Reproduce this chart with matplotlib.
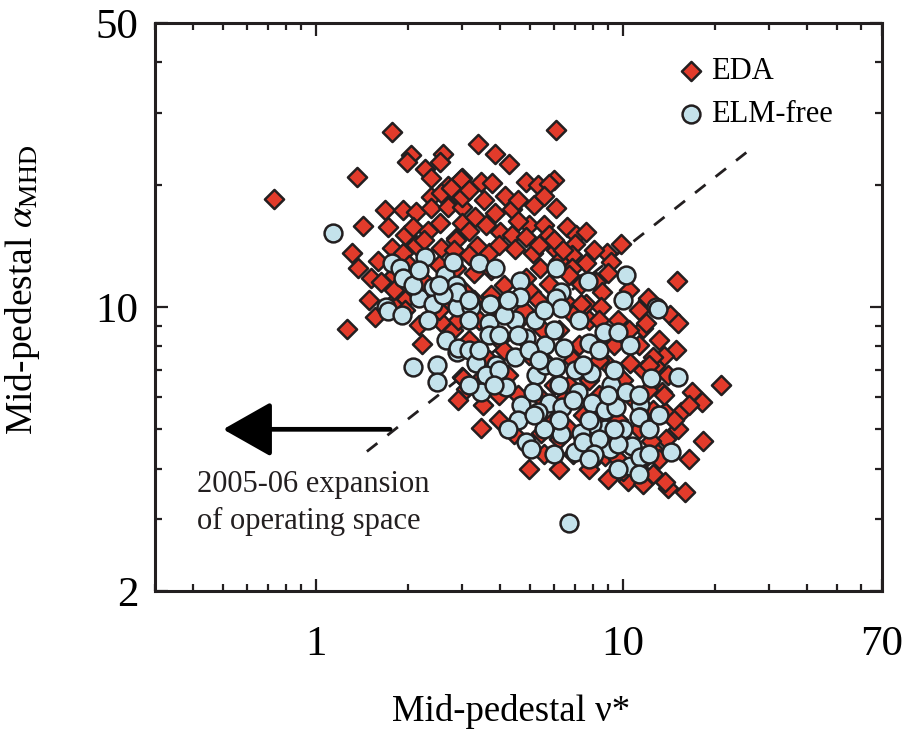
import matplotlib
matplotlib.use("Agg")
import matplotlib.pyplot as plt
from matplotlib.ticker import LogLocator, NullFormatter, FixedLocator, FixedFormatter

plt.rcParams['font.family'] = ['Liberation Serif', 'DejaVu Serif']
plt.rcParams['mathtext.fontset'] = 'stix'

# ---------------- data ----------------
eda_nu = [1.77, 1.36, 0.73, 2.05, 1.99, 2.61, 2.55, 2.28, 2.37, 2.99, 2.71, 2.92, 2.38, 2.57,
          1.69, 1.93, 2.13, 2.38, 2.71, 2.99, 1.43, 1.72, 1.96, 2.08, 2.33, 2.55, 2.99,
          1.31, 1.38, 1.52, 1.64, 1.78, 1.93, 2.12, 2.57, 2.86, 1.96, 1.77,
          6.09, 3.37, 3.85, 4.28, 2.97, 2.77, 3.47, 3.77, 4.83, 5.32, 6.0, 5.74, 4.13, 2.99,
          4.38, 6.09, 3.30, 3.85, 3.58, 4.0, 4.35, 4.94, 4.86, 5.53, 5.74, 6.57, 7.06, 7.58,
          7.0, 2.86, 3.35, 3.66, 4.48, 5.12, 6.05, 6.82, 7.58, 8.87, 9.9, 9.2, 9.0, 8.2, 12.1,
          2.86, 3.27, 3.74, 4.1, 4.83, 5.40, 5.74, 6.82, 7.30, 8.55, 6.52, 7.58, 5.05, 3.03, 3.74,
          15.0, 12.1, 14.3, 15.2, 11.7, 14.9, 13.6, 12.8, 11.7, 21.0, 16.8, 18.1, 15.5, 13.8,
          13.9, 18.3, 12.6, 11.5, 14.1, 16.0,
          1.27, 1.56, 2.23, 1.82, 1.96, 2.57, 2.99,
          3.03, 3.10, 3.45, 5.44, 10.4, 13.8, 11.9, 10.6, 12.6, 7.35, 8.5, 13.4, 12.4, 7.94,
          8.80, 10.0,
          4.6, 5.5, 3.95, 6.2, 7.76, 8.4, 9.0, 6.67, 5.32, 4.58, 5.96, 8.35, 10.0, 9.7, 11.3,
          12.6, 7.45, 12.1, 9.0, 6.9, 11.3, 9.7, 6.2, 3.66, 4.25, 3.40, 3.15, 4.94, 3.95, 3.52,
          2.81, 3.27, 4.76, 5.32, 3.95,
          6.67, 8.05, 10.5, 11.3, 9.7, 6.19, 8.35, 6.92, 10.5, 9.35, 11.3, 8.35, 7.19,
          13.1, 14.1, 12.2, 16.4, 15.2, 13.1, 16.4, 11.7, 12.6, 14.7, 13.6, 10.9,
          1.60, 1.80, 2.01, 2.25, 2.52, 2.71, 2.52, 2.17, 2.92, 1.80, 1.49, 2.82, 3.15, 2.25,
          3.15, 3.53, 4.58, 5.13, 5.53, 3.15, 4.58, 3.95, 5.33, 5.96, 6.42,
          4.10, 5.53, 6.92, 5.96, 7.75, 4.58, 6.42, 8.35, 6.67, 5.53, 7.75, 9.0, 4.42, 3.95,
          3.40, 2.92, 4.94, 6.19]
eda_alpha = [27.0, 20.9, 18.4, 23.7, 22.7, 23.8, 22.7, 21.9, 20.8, 20.8, 19.9, 18.8, 18.7, 19.1,
             17.3, 17.3, 17.1, 17.5, 17.6, 17.6, 15.8, 15.7, 15.0, 15.7, 15.4, 16.1, 16.1,
             13.6, 12.5, 11.8, 11.5, 14.0, 13.6, 14.2, 14.0, 14.8, 10.4, 10.2,
             27.3, 25.2, 23.8, 22.5, 20.7, 19.6, 20.3, 20.2, 20.3, 20.0, 20.5, 20.1, 18.8, 18.6,
             17.4, 17.5, 16.7, 17.0, 15.9, 15.3, 15.0, 15.9, 14.9, 15.9, 15.0, 15.7, 15.0, 15.3,
             14.3, 14.6, 14.1, 13.6, 13.9, 13.6, 13.8, 13.4, 12.8, 13.6, 14.3, 12.9, 12.1, 11.5, 10.4,
             12.5, 12.1, 12.3, 11.3, 11.8, 12.5, 11.4, 12.5, 11.4, 10.9, 10.3, 10.2, 10.9, 11.0, 10.7,
             11.6, 10.5, 9.56, 9.14, 8.88, 7.84, 7.59, 7.17, 7.01, 6.41, 6.16, 5.85, 5.50, 5.53,
             4.72, 4.67, 4.46, 4.15, 3.58, 3.50,
             8.83, 9.45, 8.11, 10.0, 9.83, 9.19, 6.74,
             6.70, 6.27, 5.05, 4.91, 3.72, 3.70, 9.14, 7.29, 7.54, 10.2, 10.0, 6.16, 4.67, 4.17,
             4.29, 3.94,
             9.3, 8.8, 8.3, 8.8, 9.3, 8.1, 7.2, 6.44, 6.09, 5.28, 5.28, 6.09, 6.63, 5.28, 5.0,
             5.59, 5.43, 6.26, 4.72, 4.34, 4.0, 4.22, 4.72, 7.4, 6.81, 9.29, 8.3, 7.63, 6.09, 5.75,
             8.78, 10.4, 9.83, 10.4, 9.83,
             12.0, 13.8, 11.0, 9.83, 9.29, 13.0, 9.29, 9.56, 8.78, 8.07, 8.07, 7.41, 8.07,
             8.30, 6.81, 7.21, 5.75, 5.0, 4.22, 4.22, 3.66, 3.88, 5.28, 6.09, 5.92,
             13.0, 12.0, 12.7, 11.6, 12.7, 10.4, 9.83, 9.03, 9.29, 11.0, 10.4, 13.8, 13.4, 14.6,
             19.4, 18.3, 18.3, 17.8, 18.8, 15.4, 16.3, 14.2, 14.2, 14.6, 13.8,
             7.85, 7.41, 7.41, 6.44, 6.63, 6.09, 5.92, 5.28, 5.0, 4.34, 4.0, 3.77, 4.86, 5.28,
             6.63, 5.92, 4.0, 4.0]

elm_nu = [1.14, 1.77, 1.89, 1.93, 2.28, 2.17, 2.42, 2.65, 2.81, 2.86, 1.70,
          3.40, 3.85, 4.65, 6.05, 7.70, 10.3, 4.65, 6.28, 2.86, 3.20, 3.71, 10.0, 12.9,
          13.0, 15.2, 12.4, 14.4, 11.5, 11.4, 11.4,
          1.72, 1.91, 2.08, 2.48, 2.48, 2.67, 2.88, 2.42, 2.88,
          2.90, 3.22, 6.05, 6.28, 3.66, 4.48, 5.20, 3.66, 4.86, 5.61, 6.43, 7.76, 8.68, 9.7, 10.6,
          2.92, 3.15, 3.32, 3.88, 4.48, 5.24, 5.61, 6.09, 7.0, 7.9, 9.2, 10.3, 11.3,
          3.58, 4.16, 3.47, 4.68, 5.12, 5.74, 6.33, 7.16, 7.94, 8.80, 9.5, 10.0, 8.80, 7.94, 7.30,
          6.28, 5.32, 4.86, 5.05, 7.0, 9.1, 10.7, 10.6, 11.4, 7.45, 6.67,
          3.15, 4.10, 5.53, 7.19, 4.58, 5.96, 3.40, 4.94, 3.95, 6.19, 8.35, 9.35, 11.3, 8.35,
          6.19, 4.58, 5.53, 9.7, 12.2, 13.1, 3.95, 3.15, 7.75, 9.35, 11.3, 8.05, 2.33, 2.61,
          2.08, 4.25,
          4.25, 5.13, 6.92, 5.96, 7.75, 9.7, 12.2, 3.80, 5.33, 7.46, 9.0, 3.15, 2.17, 2.52]
elm_alpha = [15.2, 12.8, 12.5, 11.8, 13.3, 10.5, 11.2, 12.0, 12.9, 11.2, 10.0,
             12.8, 12.5, 11.6, 12.5, 11.6, 12.0, 10.6, 10.9, 11.3, 10.2, 10.2, 10.4, 10.0,
             9.89, 6.74, 6.70, 4.39, 4.29, 5.75, 5.35,
             9.78, 9.56, 7.13, 7.21, 6.55, 8.30, 7.76, 10.2, 10.0,
             10.9, 10.0, 10.5, 9.94, 9.14, 9.29, 9.29, 8.54, 8.39, 8.07, 7.93, 8.16, 8.68, 8.68, 8.07,
             7.93, 7.84, 7.29, 7.21, 7.54, 6.81, 7.21, 7.13, 7.01, 6.89, 6.44, 6.16, 5.37,
             6.81, 6.37, 6.19, 5.75, 6.19, 5.82, 5.69, 6.19, 5.82, 5.59, 5.69, 5.0, 5.0, 5.14, 4.91,
             4.86, 5.50, 4.64, 4.46, 4.39, 4.46, 4.54, 4.06, 4.27, 4.64, 2.94,
             9.29, 9.56, 9.83, 9.29, 8.54, 8.78, 7.85, 7.85, 7.01, 6.44, 7.85, 7.01, 6.09, 4.72,
             5.28, 5.28, 5.0, 4.59, 5.0, 5.43, 8.54, 6.44, 5.28, 5.0, 3.88, 4.34, 9.29, 10.7,
             11.3, 10.4,
             5.0, 5.43, 5.92, 4.34, 4.22, 4.0, 4.34, 6.44, 7.41, 7.21, 6.09, 10.4, 12.3, 11.3]

series_labels = ['EDA', 'ELM-free']
x_tick_values = [1, 10, 70]
x_tick_labels = ['1', '10', '70']
y_tick_values = [2, 10, 50]
y_tick_labels = ['2', '10', '50']
x_limits = (0.3, 70)
y_limits = (2, 50)
boundary_nu = [1.47, 25.3]
boundary_alpha = [4.41, 24.0]
arrow_tip = (0.50, 5.0)
arrow_tail = (1.75, 5.0)
annotation_text = '2005-06 expansion\nof operating space'

# ---------------- figure ----------------
RED = '#E23B2B'
BLUE = '#C4E2EB'
EDGE = '#231F20'

fig = plt.figure(figsize=(9.08, 7.32), dpi=100)
ax = fig.add_axes([155/908, 1-591/732, 727/908, 568/732])
ax.set_xscale('log')
ax.set_yscale('log')
ax.set_xlim(*x_limits)
ax.set_ylim(*y_limits)

ax.plot(boundary_nu, boundary_alpha, color=EDGE, lw=2.0, ls=(0, (4.8, 4.6)), zorder=1)

ax.scatter(eda_nu, eda_alpha, marker='D', s=95, facecolor=RED, edgecolor=EDGE,
           linewidths=1.8, zorder=2, label=series_labels[0])
ax.scatter(elm_nu, elm_alpha, marker='o', s=165, facecolor=BLUE, edgecolor=EDGE,
           linewidths=1.8, zorder=3, label=series_labels[1])

ax.annotate('', xy=arrow_tip, xytext=arrow_tail,
            arrowprops=dict(arrowstyle='-|>,head_length=1.5,head_width=0.85',
                            color='black', lw=3.4, shrinkA=0, shrinkB=0,
                            mutation_scale=20), zorder=4)
ax.text(0.058, 0.213, annotation_text, transform=ax.transAxes, fontsize=22,
        ha='left', va='top', linespacing=1.36, color='#231F20')

# ticks
ax.xaxis.set_major_locator(FixedLocator(x_tick_values))
ax.xaxis.set_major_formatter(FixedFormatter(x_tick_labels))
ax.yaxis.set_major_locator(FixedLocator(y_tick_values))
ax.yaxis.set_major_formatter(FixedFormatter(y_tick_labels))
ax.xaxis.set_minor_locator(LogLocator(base=10, subs=range(2, 10)))
ax.yaxis.set_minor_locator(LogLocator(base=10, subs=range(2, 10)))
ax.xaxis.set_minor_formatter(NullFormatter())
ax.yaxis.set_minor_formatter(NullFormatter())
ax.tick_params(which='both', direction='in', top=True, right=True, color=EDGE)
ax.tick_params(which='major', length=9, width=1.6, labelsize=31)
ax.tick_params(which='minor', length=5, width=1.6)
ax.tick_params(axis='x', which='major', pad=24.5)
ax.tick_params(axis='y', which='major', pad=12)
for sp in ax.spines.values():
    sp.set_linewidth(2.2)
    sp.set_color(EDGE)

ax.set_xlabel('Mid-pedestal ν*', fontsize=26.5)
ax.set_ylabel(r'Mid-pedestal $\alpha_{\mathrm{MHD}}$', fontsize=27)
ax.xaxis.set_label_coords(0.49, -0.182)
ax.yaxis.set_label_coords(-0.155, 0.53)

leg = ax.legend(loc='upper left', bbox_to_anchor=(0.72, 0.94), frameon=False,
                fontsize=22, handlelength=0.8, handletextpad=0.28, labelspacing=0.46,
                borderpad=0, borderaxespad=0, scatterpoints=1)

fig.savefig('out.png', dpi=100)
